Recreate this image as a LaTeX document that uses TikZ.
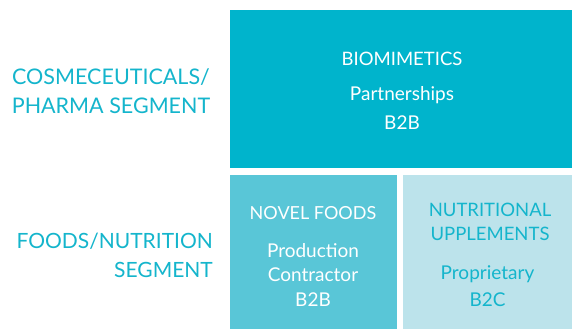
\documentclass[tikz,border=0pt]{standalone}
\usepackage{fontspec}
\setmainfont{Lato}
\definecolor{cyanA}{HTML}{00B4CC}
\definecolor{cyanB}{HTML}{59C6D7}
\definecolor{cyanC}{HTML}{BCE3EB}
\definecolor{labelc}{HTML}{14B5CC}
\begin{document}
\begin{tikzpicture}[x=1pt,y=-1pt,
  seglabel/.style={text=labelc, font=\fontsize{21.5}{29}\selectfont, inner sep=0pt},
  title/.style={font=\fontsize{18.5}{24}\selectfont, inner sep=0pt},
  sub/.style={font=\fontsize{19}{24.5}\selectfont, align=center, inner sep=0pt}]
\useasboundingbox (0,0) rectangle (572,329);
\fill[white] (0,0) rectangle (572,329);
% boxes
\fill[cyanA] (230,10) rectangle (572,168.3);
\fill[cyanB] (230,175) rectangle (396.7,329);
\fill[cyanC] (403,175) rectangle (572,329);
% segment labels
\node[seglabel, align=center] (cos) at (111,91.5) {COSMECEUTICALS/\\PHARMA SEGMENT};
\node[seglabel, align=right, anchor=east, font=\fontsize{21}{29}\selectfont] (food) at (213,255) {FOODS/NUTRITION\\SEGMENT};
% top box
\node[title, text=white] (bio) at (402,59) {BIOMIMETICS};
\node[sub, text=white, font=\fontsize{19}{28.5}\selectfont] (biosub) at (402,108) {Partnerships\\B2B};
% novel foods
\node[title, text=white, font=\fontsize{18}{24}\selectfont] (nf) at (313,213) {NOVEL FOODS};
\node[sub, text=white] (nfsub) at (313,274.5) {Production\\Contractor\\B2B};
% nutritional
\node[title, text=labelc, align=center, font=\fontsize{18.5}{23.5}\selectfont] (ns) at (490,222) {NUTRITIONAL\\UPPLEMENTS};
\node[sub, text=labelc, font=\fontsize{19}{27}\selectfont] (nssub) at (487.5,286.5) {Proprietary\\B2C};
\end{tikzpicture}
\end{document}
